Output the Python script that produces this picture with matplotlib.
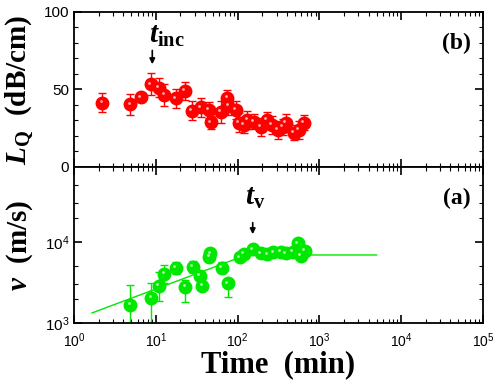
import matplotlib
matplotlib.use("Agg")
import matplotlib.pyplot as plt
import matplotlib.transforms as mtransforms
from matplotlib.ticker import LogLocator, MultipleLocator, NullFormatter

plt.rcParams["font.family"] = "Liberation Sans"
plt.rcParams["mathtext.fontset"] = "custom"
plt.rcParams["mathtext.it"] = "Liberation Serif:italic:bold"
plt.rcParams["mathtext.rm"] = "Liberation Serif:bold"
plt.rcParams["mathtext.bf"] = "Liberation Serif:bold"

# (b) loss L_Q vs time
loss_t = [2.22, 4.87, 6.58, 8.73, 10.8, 12.7, 17.7, 22.6, 27.8, 35.2, 44.5, 47.5, 61.9,
          74.7, 76.9, 94.5, 104, 119, 131, 158, 191, 227, 261, 310, 357, 388, 491, 565, 651]
loss_q = [41.5, 40.4, 45.0, 53.4, 51.2, 46.5, 44.3, 49.0, 36.3, 38.5, 36.8, 28.8, 35.7,
          44.7, 39.4, 36.8, 28.6, 27.1, 30.3, 29.2, 25.8, 30.3, 27.1, 23.9, 25.8, 28.4, 22.1, 23.9, 28.6]
loss_err = [6, 7, 3, 7, 6, 7, 6, 6, 6, 6, 5, 4, 7,
            5, 6, 6, 6, 5, 6, 5, 6, 5, 6, 6, 5, 6, 5, 6, 5]

# (a) velocity vs time
vel_t = [4.87, 8.8, 10.8, 12.7, 17.7, 23, 28.6, 34.5, 36.9, 45, 46.5, 63.6, 75.4,
         107, 119, 154, 191, 231, 274, 337, 388, 469, 550, 593, 664]
vel_v = [1667, 2050, 2860, 4030, 4820, 2800, 4950, 3800, 2860, 6600, 7250, 4820, 3090,
         6470, 7110, 8130, 7240, 7050, 7460, 7580, 7240, 7580, 9640, 6710, 7810]
vel_lo = [1100, 1300, 990, 940, 750, 970, 800, 300, 0, 400, 400, 700, 980,
          500, 400, 300, 300, 300, 300, 300, 300, 300, 400, 300, 300]
vel_hi = [1280, 1050, 1440, 1170, 900, 600, 900, 300, 0, 400, 400, 800, 0,
          500, 400, 300, 300, 300, 300, 300, 300, 300, 400, 300, 300]

# fitted power law + plateau
fit_t = [1.66, 128, 5000]
fit_v = [1330, 6900, 6900]

RED = "#ff0000"
GREEN = "#00e800"

fig = plt.figure(figsize=(5.0, 3.87), dpi=100)
ax_b = fig.add_axes([0.148, 0.5685, 0.818, 0.4005])
ax_a = fig.add_axes([0.148, 0.1654, 0.818, 0.4031])


def style_axis(ax):
    ax.set_xscale("log")
    ax.set_xlim(1, 1e5)
    ax.tick_params(which="both", direction="in", top=True, right=True)
    ax.tick_params(axis="y", labelsize=11)
    ax.tick_params(axis="x", labelsize=10, pad=6)
    ax.tick_params(which="major", length=6, width=1.2)
    ax.tick_params(which="minor", length=3, width=0.8)
    for s in ax.spines.values():
        s.set_linewidth(1.3)


def balls(ax, x, y, color, shine):
    # shaded sphere look: solid disc plus a small offset highlight
    ax.plot(x, y, "o", ms=9, color=color, mec=color, zorder=3)
    hl = mtransforms.offset_copy(ax.transData, fig=fig, x=-1.2, y=1.2, units="points")
    ax.plot(x, y, "o", ms=2, color=shine, mec="none", zorder=4, transform=hl)


# top panel
style_axis(ax_b)
ax_b.errorbar(loss_t, loss_q, yerr=loss_err, fmt="none", ecolor=RED, elinewidth=1,
              capsize=3, capthick=1, zorder=2)
balls(ax_b, loss_t, loss_q, RED, "#ffb0b0")
ax_b.set_ylim(0, 100)
ax_b.yaxis.set_major_locator(MultipleLocator(50))
ax_b.yaxis.set_minor_locator(MultipleLocator(10))
ax_b.xaxis.set_major_formatter(NullFormatter())
ax_b.set_ylabel(r"$L_{\mathrm{Q}}$  (dB/cm)", fontsize=21, family="Liberation Serif",
                fontweight="bold")
ax_b.text(0.97, 0.8, "(b)", transform=ax_b.transAxes, ha="right", va="center",
          fontsize=17, family="Liberation Serif", fontweight="bold")
ax_b.annotate("", xy=(9.06, 64.5), xytext=(9.06, 77),
              arrowprops=dict(arrowstyle="-|>", color="black", lw=1.2, mutation_scale=8))
ax_b.text(8.3, 80, r"$t_{\mathrm{inc}}$", fontsize=21, ha="left", va="baseline")

# bottom panel
style_axis(ax_a)
ax_a.set_yscale("log")
ax_a.set_ylim(1000, 84000)
ax_a.yaxis.set_minor_locator(LogLocator(base=10, subs=(2, 3, 5)))
ax_a.yaxis.set_minor_formatter(NullFormatter())
ax_a.plot(fit_t, fit_v, "-", color=GREEN, lw=1, zorder=1)
ax_a.errorbar(vel_t, vel_v, yerr=[vel_lo, vel_hi], fmt="none", ecolor=GREEN, elinewidth=1,
              capsize=3, capthick=1, zorder=2)
balls(ax_a, vel_t, vel_v, GREEN, "#b0ffb0")
ax_a.set_xlabel("Time  (min)", fontsize=22, family="Liberation Serif", fontweight="bold",
                labelpad=0)
ax_a.set_ylabel(r"$v$  (m/s)", fontsize=21, family="Liberation Serif",
                fontweight="bold")
ax_a.text(0.97, 0.8, "(a)", transform=ax_a.transAxes, ha="right", va="center",
          fontsize=17, family="Liberation Serif", fontweight="bold")
ax_a.annotate("", xy=(153, 11500), xytext=(153, 18700),
              arrowprops=dict(arrowstyle="-|>", color="black", lw=1.2, mutation_scale=8))
ax_a.text(122, 28600, r"$t_{\mathrm{v}}$", fontsize=21, ha="left", va="baseline")

ax_b.yaxis.set_label_coords(-0.095, 0.5)
ax_a.yaxis.set_label_coords(-0.095, 0.5)

fig.savefig("out.png", dpi=100)
